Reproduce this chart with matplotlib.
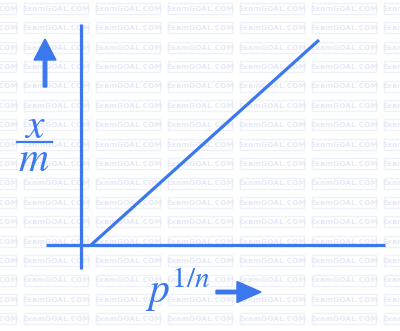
import matplotlib.pyplot as plt
from matplotlib.patches import Rectangle
import numpy as np

# straight-line isotherm: x/m against p^(1/n)
p_root = [0.10, 2.38]
x_over_m = [0.00, 2.05]

x_axis = [-0.35, 3.04]
y_axis = [-0.24, 2.21]

blue = '#3b78ee'

fig = plt.figure(figsize=(4, 3.31), dpi=100)

# watermark layer in pixel space
bg = fig.add_axes([0, 0, 1, 1])
bg.set_xlim(0, 400)
bg.set_ylim(331, 0)
bg.axis('off')
for row in range(18):
    top = 3 + row * 19.4
    for col in range(-1, 6):
        left = 24 + col * 72
        bg.add_patch(Rectangle((left, top), 64, 11, fill=False,
                               edgecolor='#eff1fa', linewidth=1.0, clip_on=True))
        bg.text(left + 32, top + 5.8, 'ExamGOAL.COM', ha='center', va='center',
                fontsize=5.4, color='#e6e9f6', fontweight='bold', clip_on=True)

ax = fig.add_axes([0, 0, 1, 1], facecolor='none')
ax.set_xlim(-0.81, 3.19)
ax.set_ylim(-0.86, 2.45)
ax.axis('off')

ax.plot(x_axis, [0, 0], color=blue, lw=2.3, solid_capstyle='butt')
ax.plot([0, 0], y_axis, color=blue, lw=2.3, solid_capstyle='butt')
ax.plot(p_root, x_over_m, color=blue, lw=2.3, solid_capstyle='butt')

# y label with arrow
ax.arrow(-0.36, 1.58, 0, 0.27, width=0.035, head_width=0.22,
         head_length=0.21, color=blue)
ax.text(-0.46, 1.19, '$x$', fontsize=30, color=blue, ha='center', va='center',
        math_fontfamily='stix')
ax.plot([-0.64, -0.29], [1.03, 1.03], color=blue, lw=1.6)
ax.text(-0.47, 0.86, '$m$', fontsize=30, color=blue, ha='center', va='center',
        math_fontfamily='stix')

# x label with arrow
ax.text(0.97, -0.45, '$p^{1/n}$', fontsize=30, color=blue, ha='center',
        va='center', math_fontfamily='stix')
ax.arrow(1.35, -0.47, 0.21, 0, width=0.035, head_width=0.21,
         head_length=0.24, color=blue)

fig.savefig('out.png', dpi=100)
